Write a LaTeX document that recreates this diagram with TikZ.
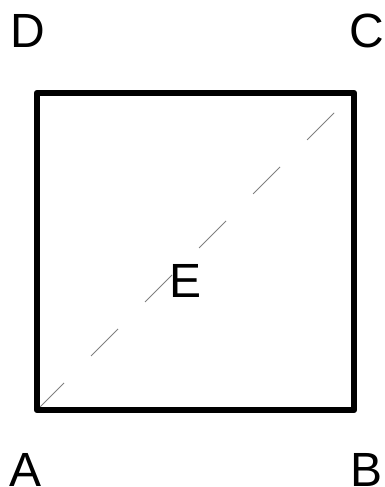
\documentclass[tikz,border=0pt]{standalone}
\usepackage{fontspec}
\setmainfont{Liberation Sans}
\usepackage{tikz}

\tikzset{
    lbl/.style={inner sep=0pt, font=\fontsize{48}{48}\selectfont},
    side/.style={line width=6.5pt, line join=round},
    diag/.style={draw=gray, line width=0.9pt, dash pattern=on 38.2pt off 38.2pt}
}

\begin{document}
\begin{tikzpicture}[x=1pt, y=-1pt]
        \useasboundingbox (0,0) rectangle (384,487);

        \coordinate (a) at (37,410);
        \coordinate (b) at (354,410);
        \coordinate (c) at (354,93);
        \coordinate (d) at (37,93);

        \draw[diag] (a) -- (c);
        \draw[side] (a) -- (b) -- (c) -- (d) -- cycle;

        \node[lbl] (A) at (26,469.5) {A};
        \node[lbl] (B) at (367,469.5) {B};
        \node[lbl] (C) at (367,30.5) {C};
        \node[lbl] (D) at (28,30.5) {D};
        \node[lbl] (E) at (185.5,280.5) {E};
\end{tikzpicture}
\end{document}
